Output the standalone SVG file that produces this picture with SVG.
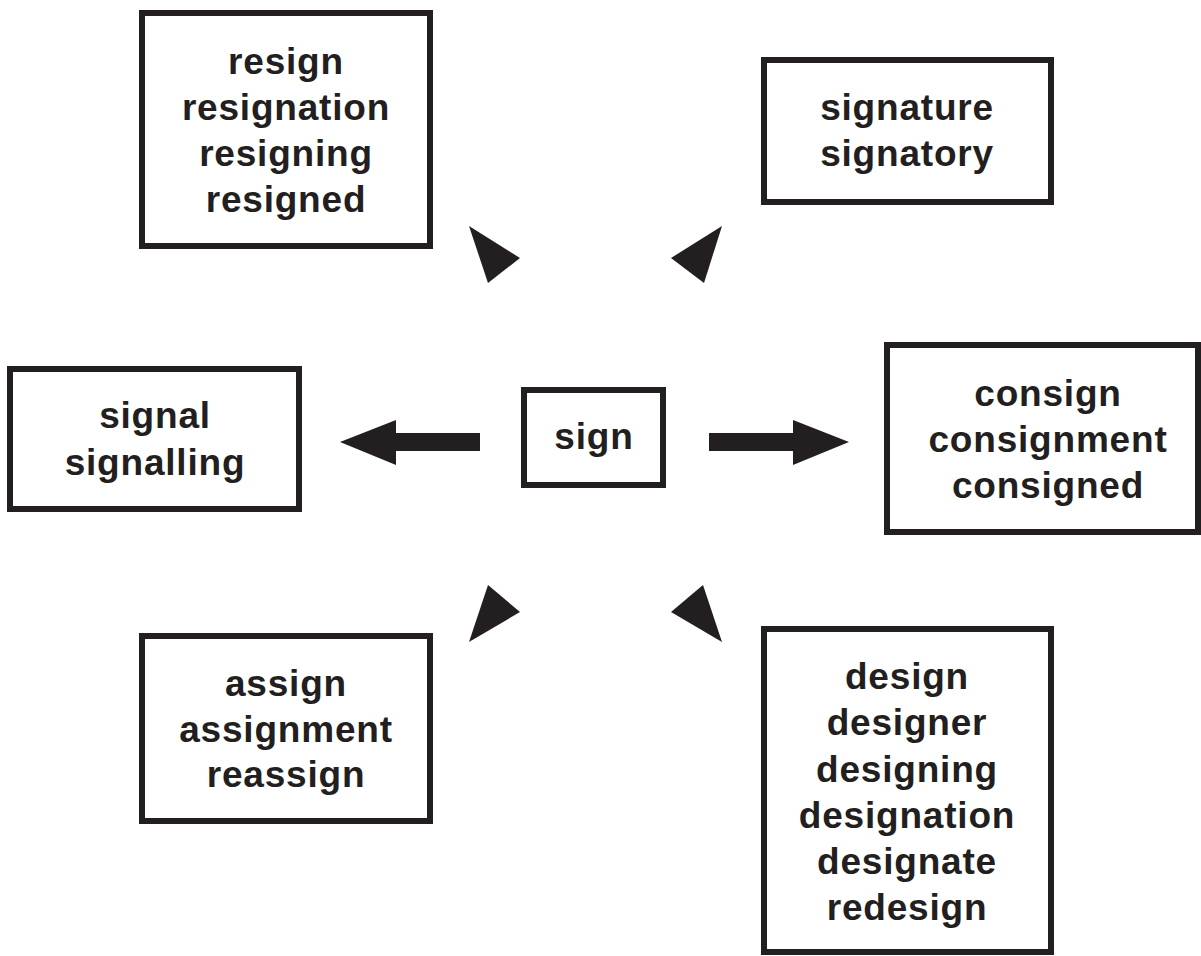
<svg xmlns="http://www.w3.org/2000/svg" width="1201" height="956" viewBox="0 0 1201 956">
<style>
.box{fill:#fff;stroke:#231f20;stroke-width:6}
.t{font-family:"Liberation Sans",Arial,sans-serif;font-weight:bold;font-size:37px;letter-spacing:0.8px;fill:#231f20;text-anchor:middle}
.ar{fill:#231f20}
</style>
<rect width="1201" height="956" fill="#fff"/>
<g id="node-resign">
<rect class="box" x="142" y="13" width="288" height="233"/>
<text class="t" x="286" y="74">resign</text>
<text class="t" x="286" y="120">resignation</text>
<text class="t" x="286" y="166">resigning</text>
<text class="t" x="286" y="212">resigned</text>
</g>
<g id="node-signature">
<rect class="box" x="764" y="60" width="287" height="142"/>
<text class="t" x="907" y="120">signature</text>
<text class="t" x="907" y="166">signatory</text>
</g>
<g id="node-signal">
<rect class="box" x="10" y="369" width="289" height="140"/>
<text class="t" x="155" y="428">signal</text>
<text class="t" x="155" y="475">signalling</text>
</g>
<g id="node-sign">
<rect class="box" x="524" y="390" width="139" height="95"/>
<text class="t" x="594" y="449">sign</text>
</g>
<g id="node-consign">
<rect class="box" x="887" y="345" width="311" height="187"/>
<text class="t" x="1048" y="406">consign</text>
<text class="t" x="1048" y="452">consignment</text>
<text class="t" x="1048" y="498">consigned</text>
</g>
<g id="node-assign">
<rect class="box" x="142" y="636" width="288" height="185"/>
<text class="t" x="286" y="696">assign</text>
<text class="t" x="286" y="742">assignment</text>
<text class="t" x="286" y="787">reassign</text>
</g>
<g id="node-design">
<rect class="box" x="764" y="629" width="287" height="323"/>
<text class="t" x="907" y="689">design</text>
<text class="t" x="907" y="735">designer</text>
<text class="t" x="907" y="782">designing</text>
<text class="t" x="907" y="828">designation</text>
<text class="t" x="907" y="874">designate</text>
<text class="t" x="907" y="920">redesign</text>
</g>
<g id="connectors">
<polygon class="ar" points="480,433 396,433 396,420 340,442 396,465 396,451 480,451"/>
<polygon class="ar" points="709,433 793,433 793,420 849,442 793,465 793,451 709,451"/>
<polygon class="ar" points="469,226 520,258 488,283"/>
<polygon class="ar" points="722,226 671,258 704,283"/>
<polygon class="ar" points="488,585 520,612 469,642"/>
<polygon class="ar" points="703,585 671,612 722,642"/>
</g>
</svg>
